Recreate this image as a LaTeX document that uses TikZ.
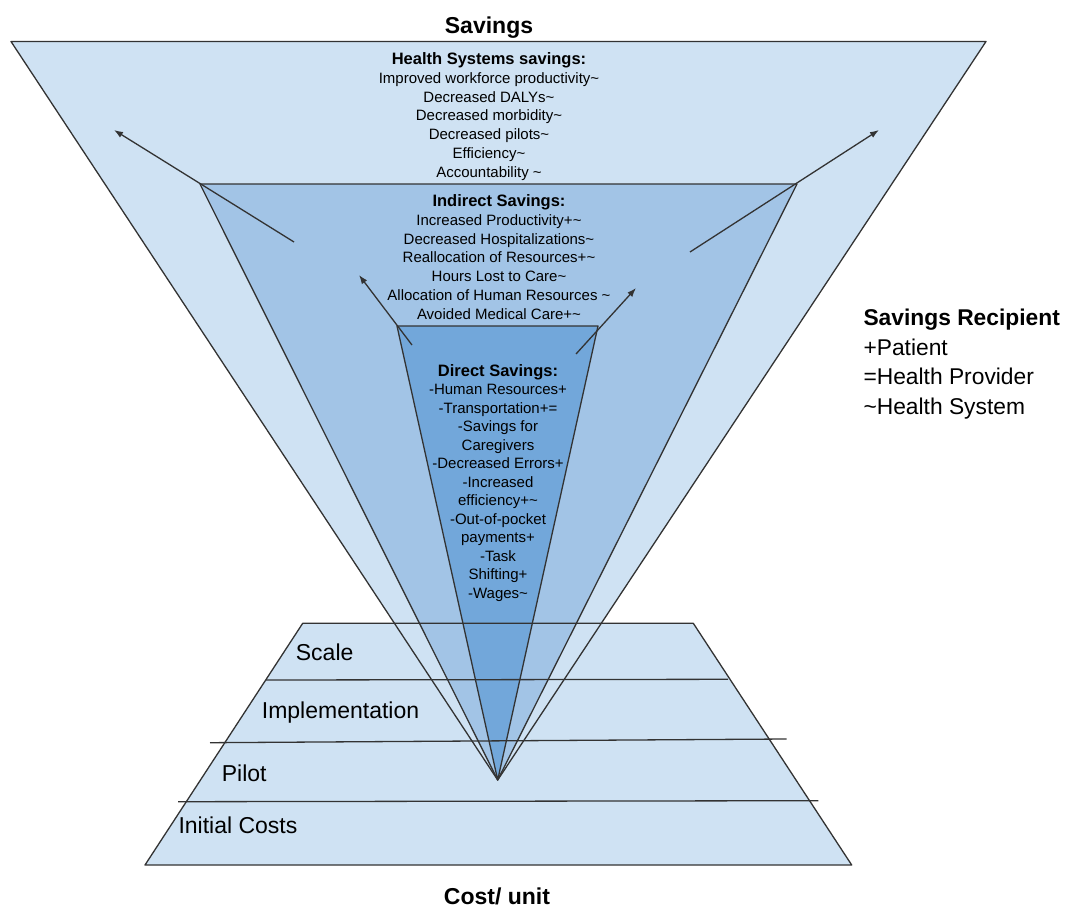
\documentclass[tikz,border=0pt]{standalone}
\usepackage{fontspec}
\setmainfont{Liberation Sans}
\usetikzlibrary{arrows.meta}
\definecolor{outerblue}{HTML}{CFE2F3}
\definecolor{midblue}{HTML}{A2C4E6}
\definecolor{innerblue}{HTML}{72A7DA}
\definecolor{edgegray}{HTML}{333333}
\newcommand{\blockhead}{\fontsize{16.5}{18.8}\selectfont\bfseries}

\begin{document}
\begin{tikzpicture}[x=1pt,y=-1pt,
    edge/.style={draw=edgegray, line width=1.3pt, line join=round},
    push/.style={draw=edgegray, line width=1.3pt, -{Latex[length=9pt,width=6.5pt]}},
    item/.style={align=center, inner sep=0pt, anchor=north, font=\fontsize{15}{18.8}\selectfont},
    stage/.style={inner sep=0pt, anchor=base west, font=\fontsize{23}{27}\selectfont},
    axis/.style={inner sep=0pt, anchor=base, font=\fontsize{23}{27}\selectfont\bfseries}]
\useasboundingbox (0,0) rectangle (1072,913);

% corners
\coordinate (apex) at (497.7,780);
\coordinate (oL) at (11,41.5);
\coordinate (oR) at (986,41.5);
\coordinate (mL) at (200,184);
\coordinate (mR) at (797,184);
\coordinate (iL) at (397,326);
\coordinate (iR) at (598,326);

% cost trapezoid
\fill[outerblue] (302.7,623.3) -- (693.3,623.3) -- (851.7,865) -- (145,865) -- cycle;

% savings triangles
\filldraw[edge, fill=outerblue] (oL) -- (oR) -- (apex) -- cycle;
\filldraw[edge, fill=midblue] (mL) -- (mR) -- (apex) -- cycle;
\filldraw[edge, fill=innerblue] (iL) -- (iR) -- (apex) -- cycle;

\draw[edge] (302.7,623.3) -- (693.3,623.3) -- (851.7,865) -- (145,865) -- cycle;
\draw[edge] (266,680) -- (728,679.3);
\draw[edge] (210,742.7) -- (786.7,739);
\draw[edge] (178,801.7) -- (818.3,800.7);

% arrows
\coordinate (olTail) at (294,242);
\coordinate (olTip) at (114,130);
\coordinate (orTail) at (690,252);
\coordinate (orTip) at (879,130);
\coordinate (ilTail) at (412,345);
\coordinate (ilTip) at (359,275);
\coordinate (irTail) at (576,354);
\coordinate (irTip) at (636,288);
\draw[push] (olTail) -- (olTip);
\draw[push] (orTail) -- (orTip);
\draw[push] (ilTail) -- (ilTip);
\draw[push] (irTail) -- (irTip);

% texts
\node[axis] (savings) at (489,33) {Savings};
\node[axis] (cost) at (497,904) {Cost/ unit};

\node[item] (health) at (489,52.4) {{\blockhead Health Systems savings:}\\
    Improved workforce productivity\textasciitilde\\
    Decreased DALYs\textasciitilde\\
    Decreased morbidity\textasciitilde\\
    Decreased pilots\textasciitilde\\
    Efficiency\textasciitilde\\
    Accountability \textasciitilde};
\node[item] (indirect) at (499,194.3) {{\blockhead Indirect Savings:}\\
    Increased Productivity+\textasciitilde\\
    Decreased Hospitalizations\textasciitilde\\
    Reallocation of Resources+\textasciitilde\\
    Hours Lost to Care\textasciitilde\\
    Allocation of Human Resources \textasciitilde\\
    Avoided Medical Care+\textasciitilde};
\node[item, font=\fontsize{15}{18.5}\selectfont] (direct) at (498,364) {{\blockhead Direct Savings:}\\
    -Human Resources+\\
    -Transportation+=\\
    -Savings for\\
    Caregivers\\
    -Decreased Errors+\\
    -Increased\\
    efficiency+\textasciitilde\\
    -Out-of-pocket\\
    payments+\\
    -Task\\
    Shifting+\\
    -Wages\textasciitilde};

\node[stage] (scale) at (295.7,660.7) {Scale};
\node[stage] (impl) at (261.7,718) {Implementation};
\node[stage] (pilot) at (221.7,781.7) {Pilot};
\node[stage] (initial) at (178.3,833) {Initial Costs};

\node[stage, font=\fontsize{22.8}{29.6}\selectfont, align=left, anchor=north west] (recipient) at (863.3,309)
    {\textbf{Savings Recipient}\\
    +Patient\\
    =Health Provider\\
    \textasciitilde Health System};
\end{tikzpicture}
\end{document}
